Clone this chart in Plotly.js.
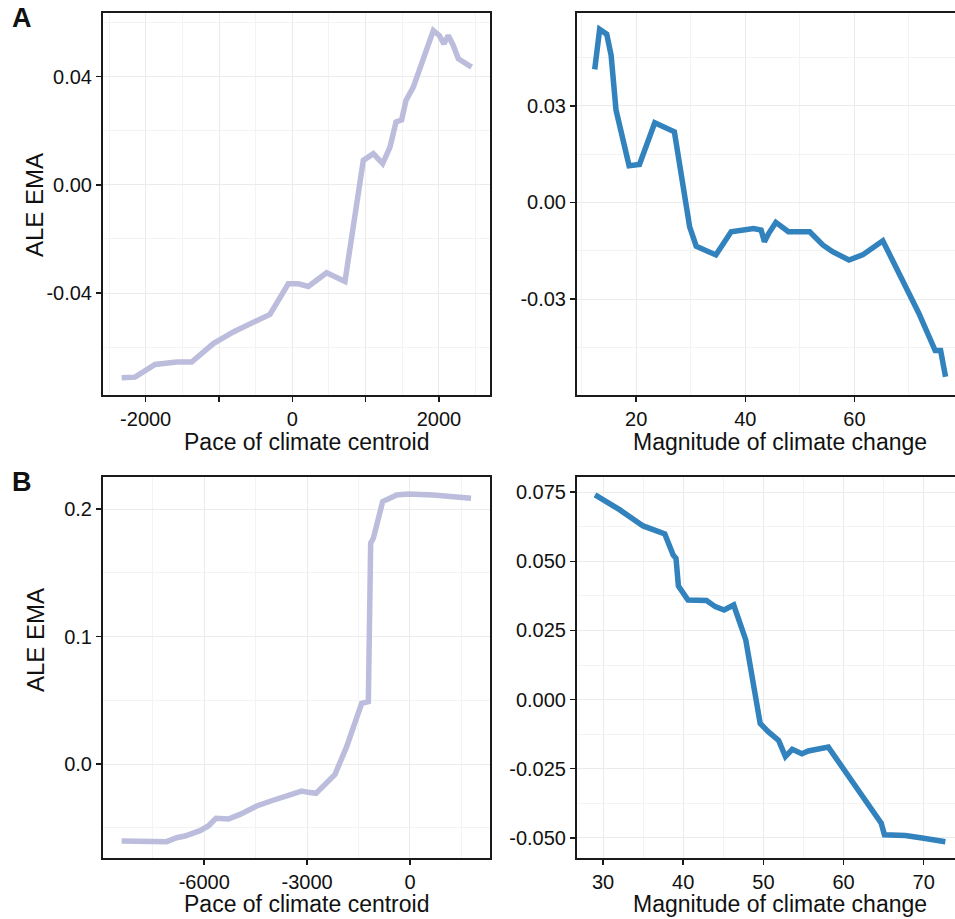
<!DOCTYPE html>
<html>
<head>
<meta charset="utf-8">
<script src="https://cdn.plot.ly/plotly-3.0.1.min.js"></script>
<style>
  html, body { margin: 0; padding: 0; overflow: hidden; background: #fff; }
  #chart { width: 963px; height: 919px; }
</style>
</head>
<body>
<div id="chart"></div>
<script>
// ---- Data ----
// Panel A, left: ALE vs pace of climate centroid
const paceA = [-2327, -2145, -1873, -1577, -1373, -1077, -805, -532, -305, -55, 82, 218, 468, 718, 968, 1105, 1232, 1332, 1414, 1491, 1550, 1650, 1764, 1855, 1923, 2005, 2068, 2127, 2195, 2264, 2445];
const aleA_pace = [-0.0713, -0.0711, -0.0664, -0.0655, -0.0655, -0.0587, -0.0544, -0.0507, -0.0479, -0.0366, -0.0366, -0.0376, -0.0325, -0.0357, 0.0090, 0.0115, 0.0078, 0.0139, 0.0232, 0.0240, 0.0312, 0.0361, 0.0453, 0.0527, 0.0570, 0.0552, 0.0521, 0.0552, 0.0515, 0.0466, 0.0435];

// Panel A, right: ALE vs magnitude of climate change
const magA = [12.4, 13.3, 14.6, 15.4, 16.3, 18.7, 20.6, 23.4, 27.0, 29.8, 31.0, 34.6, 37.4, 41.5, 42.9, 43.5, 44.3, 45.6, 47.9, 51.8, 54.2, 56.0, 59.0, 61.5, 65.2, 68.2, 71.8, 74.8, 75.8, 76.7];
const aleA_mag = [0.0413, 0.0537, 0.0522, 0.0457, 0.0287, 0.0114, 0.0118, 0.0247, 0.0219, -0.0076, -0.0136, -0.0163, -0.0091, -0.0081, -0.0086, -0.0122, -0.0096, -0.0062, -0.0091, -0.0091, -0.0132, -0.0153, -0.0179, -0.0163, -0.0119, -0.0220, -0.0344, -0.0460, -0.0460, -0.0541];

// Panel B, left
const paceB = [-8408, -7096, -6804, -6561, -6124, -5881, -5657, -5297, -4957, -4471, -4034, -3596, -3159, -2965, -2741, -2187, -1847, -1409, -1215, -1147, -1069, -797, -389, -49, 680, 1779];
const aleB_pace = [-0.0604, -0.0609, -0.0578, -0.0565, -0.0523, -0.0486, -0.0426, -0.0431, -0.0395, -0.0329, -0.0288, -0.0251, -0.0212, -0.0222, -0.0230, -0.0081, 0.0136, 0.0476, 0.0489, 0.1731, 0.1770, 0.2058, 0.2110, 0.2118, 0.2110, 0.2084];

// Panel B, right
const magB = [29.0, 32.1, 35.0, 37.7, 38.75, 39.1, 39.4, 40.6, 42.9, 44.0, 45.1, 46.3, 47.8, 49.6, 50.6, 51.9, 52.75, 53.6, 54.8, 55.6, 58.1, 61.25, 64.7, 65.1, 67.7, 69.8, 72.7];
const aleB_mag = [0.0740, 0.0686, 0.0628, 0.0599, 0.0523, 0.0511, 0.0411, 0.0360, 0.0358, 0.0336, 0.0324, 0.0342, 0.0216, -0.0086, -0.0116, -0.0148, -0.0206, -0.0180, -0.0196, -0.0186, -0.0172, -0.0303, -0.0447, -0.0489, -0.0492, -0.0501, -0.0514];

// Tick values / labels
const xTicksA1 = [-2000, -1000, 0, 1000, 2000];
const xLabelsA1 = ['-2000', '', '0', '', '2000'];
const yTicksA1 = [-0.04, 0, 0.04];
const yLabelsA1 = ['-0.04', '0.00', '0.04'];
const xTicksA2 = [20, 40, 60, 80];
const xLabelsA2 = ['20', '40', '60', '80'];
const yTicksA2 = [-0.03, 0, 0.03];
const yLabelsA2 = ['-0.03', '0.00', '0.03'];
const xTicksB1 = [-6000, -3000, 0];
const xLabelsB1 = ['-6000', '-3000', '0'];
const yTicksB1 = [0, 0.1, 0.2];
const yLabelsB1 = ['0.0', '0.1', '0.2'];
const xTicksB2 = [30, 40, 50, 60, 70];
const xLabelsB2 = ['30', '40', '50', '60', '70'];
const yTicksB2 = [-0.05, -0.025, 0, 0.025, 0.05, 0.075];
const yLabelsB2 = ['-0.050', '-0.025', '0.000', '0.025', '0.050', '0.075'];

const xTitlePace = 'Pace of climate centroid';
const xTitleMag = 'Magnitude of climate change';
const yTitle = 'ALE EMA';
const panelLabels = ['A', 'B'];

// ---- Styling ----
const FONT = 'Liberation Sans, Arial, Helvetica, sans-serif';
const lavender = '#bcbddc';
const blue = '#3182bd';
const W = 963, H = 919;

function axis(opts) {
  return Object.assign({
    showline: true, mirror: true, linecolor: '#1a1a1a', linewidth: 2,
    ticks: 'outside', ticklen: 5, tickwidth: 1.5, tickcolor: '#1a1a1a',
    tickmode: 'array',
    showgrid: true, gridcolor: '#ebebeb', gridwidth: 1,
    zeroline: false,
    tickfont: {family: FONT, size: 20, color: '#111'},
    ticklabelstandoff: 0,
    fixedrange: true
  }, opts);
}
function minor(d, t0) {
  return {tickmode: 'linear', tick0: t0, dtick: d, showgrid: true, gridcolor: '#f3f3f3', gridwidth: 1, ticks: ''};
}
function label(text, px, py, size, angle, bold) {
  return {text: bold ? '<b>' + text + '</b>' : text, xref: 'paper', yref: 'paper',
          x: px / W, y: 1 - py / H, xanchor: 'center', yanchor: 'middle', textangle: angle || 0,
          showarrow: false, font: {family: FONT, size: size, color: '#111'}};
}

const traces = [
  {x: paceA, y: aleA_pace, xaxis: 'x', yaxis: 'y', type: 'scatter', mode: 'lines',
   line: {color: lavender, width: 5.5}, hoverinfo: 'skip'},
  {x: magA, y: aleA_mag, xaxis: 'x2', yaxis: 'y2', type: 'scatter', mode: 'lines',
   line: {color: blue, width: 5.5}, hoverinfo: 'skip'},
  {x: paceB, y: aleB_pace, xaxis: 'x3', yaxis: 'y3', type: 'scatter', mode: 'lines',
   line: {color: lavender, width: 5.5}, hoverinfo: 'skip'},
  {x: magB, y: aleB_mag, xaxis: 'x4', yaxis: 'y4', type: 'scatter', mode: 'lines',
   line: {color: blue, width: 5.5}, hoverinfo: 'skip'}
];

const dxL = [103 / W, 490 / W];
const dxR = [577 / W, 1];
const dyA = [1 - 395 / H, 1 - 13 / H];
const dyB = [1 - 858 / H, 1 - 477 / H];

const layout = {
  width: W, height: H,
  margin: {l: 0, r: 0, t: 0, b: 0},
  paper_bgcolor: '#fff', plot_bgcolor: '#fff',
  showlegend: false,
  font: {family: FONT, color: '#111'},
  xaxis: axis({domain: dxL, anchor: 'y', range: [-2582, 2696], tickvals: xTicksA1, ticktext: xLabelsA1,
               minor: minor(500, 0)}),
  yaxis: axis({domain: dyA, anchor: 'x', range: [-0.0777, 0.0635], tickvals: yTicksA1, ticktext: yLabelsA1,
               minor: minor(0.02, 0)}),
  xaxis2: axis({domain: dxR, anchor: 'y2', range: [9.15, 79.9], tickvals: xTicksA2, ticktext: xLabelsA2,
                minor: minor(10, 0)}),
  yaxis2: axis({domain: dyA, anchor: 'x2', range: [-0.0598, 0.0588], tickvals: yTicksA2, ticktext: yLabelsA2,
                minor: minor(0.015, 0)}),
  xaxis3: axis({domain: dxL, anchor: 'y3', range: [-8952, 2333], tickvals: xTicksB1, ticktext: xLabelsB1,
                minor: minor(1500, 0)}),
  yaxis3: axis({domain: dyB, anchor: 'x3', range: [-0.0737, 0.2251], tickvals: yTicksB1, ticktext: yLabelsB1,
                minor: minor(0.05, 0)}),
  xaxis4: axis({domain: dxR, anchor: 'y4', range: [26.75, 74.9], tickvals: xTicksB2, ticktext: xLabelsB2,
                minor: minor(5, 0)}),
  yaxis4: axis({domain: dyB, anchor: 'x4', range: [-0.0573, 0.0805], tickvals: yTicksB2, ticktext: yLabelsB2,
                minor: minor(0.0125, 0)}),
  annotations: [
    label(panelLabels[0], 22, 18, 27, 0, true),
    label(panelLabels[1], 22, 482, 27, 0, true),
    label(xTitlePace, 306, 442, 23),
    label(xTitleMag, 780, 442, 23),
    label(xTitlePace, 306, 904, 23),
    label(xTitleMag, 780, 904, 23),
    label(yTitle, 35, 205, 24, -90),
    label(yTitle, 35, 640, 24, -90)
  ]
};

Plotly.newPlot('chart', traces, layout, {displayModeBar: false, staticPlot: true});
</script>
</body>
</html>
